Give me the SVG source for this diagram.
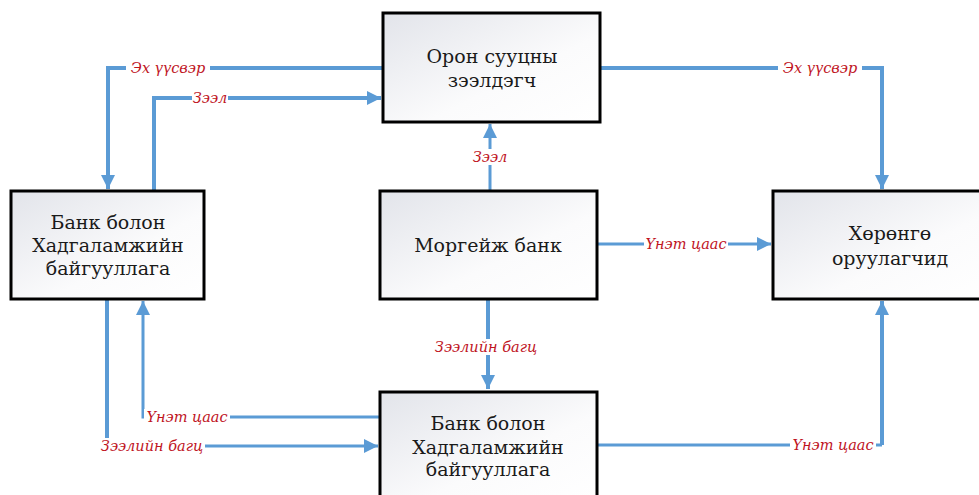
<svg xmlns="http://www.w3.org/2000/svg" width="979" height="495" viewBox="0 0 979 495">
<defs>
<linearGradient id="g" x1="0" y1="0" x2="1" y2="1">
<stop offset="0" stop-color="#e2e4ea"/>
<stop offset="0.6" stop-color="#fbfbfc"/>
<stop offset="1" stop-color="#ffffff"/>
</linearGradient>
<marker id="ah" markerUnits="userSpaceOnUse" markerWidth="16" markerHeight="14" refX="14" refY="7" orient="auto">
<path d="M0,0 L14,7 L0,14 Z" fill="#5b9bd5"/>
</marker>
<style>
.box{fill:url(#g);stroke:#000;stroke-width:3}
.t{font-family:'DejaVu Serif','Liberation Serif',serif;font-size:19px;fill:#1a1a1a;text-anchor:middle}
.c{fill:none;stroke:#5b9bd5;stroke-width:3}
.k{stroke-width:4}
.l{font-family:'DejaVu Serif','Liberation Serif',serif;font-style:italic;font-size:14.5px;fill:#c0141e;text-anchor:middle}
.bg{fill:#fff}
</style>
</defs>
<rect width="979" height="495" fill="#fff"/>
<g id="connectors">
<path class="c k" d="M383,68 H108 V189" marker-end="url(#ah)"/>
<path class="c k" d="M154,191 V98 H381" marker-end="url(#ah)"/>
<path class="c" d="M490,191 V124" marker-end="url(#ah)"/>
<path class="c k" d="M600,68 H882 V189" marker-end="url(#ah)"/>
<path class="c" d="M597,244 H771" marker-end="url(#ah)"/>
<path class="c k" d="M488,299 V389" marker-end="url(#ah)"/>
<path class="c k" d="M107,299 V446"/>
<path class="c" d="M107,446 H378" marker-end="url(#ah)"/>
<path class="c" d="M380,417 H143 V301" marker-end="url(#ah)"/>
<path class="c" d="M597,445 H882"/>
<path class="c k" d="M882,445 V301" marker-end="url(#ah)"/>
<rect class="bg" x="126" y="60" width="84" height="16"/>
<text class="l" x="168" y="73">Эх үүсвэр</text>
<rect class="bg" x="192" y="90" width="36" height="16"/>
<text class="l" x="210" y="103">Зээл</text>
<rect class="bg" x="472" y="149" width="36" height="16"/>
<text class="l" x="490" y="162">Зээл</text>
<rect class="bg" x="778" y="60" width="84" height="16"/>
<text class="l" x="820" y="73">Эх үүсвэр</text>
<rect class="bg" x="644" y="236" width="84" height="16"/>
<text class="l" x="686" y="249">Үнэт цааc</text>
<rect class="bg" x="434" y="339" width="104" height="16"/>
<text class="l" x="486" y="352">Зээлийн багц</text>
<rect class="bg" x="144" y="409" width="86" height="16"/>
<text class="l" x="187" y="422">Үнэт цааc</text>
<rect class="bg" x="99" y="438" width="106" height="16"/>
<text class="l" x="152" y="451">Зээлийн багц</text>
<rect class="bg" x="790" y="437" width="86" height="16"/>
<text class="l" x="833" y="450">Үнэт цааc</text>
</g>
<g id="n-top">
<rect class="box" x="383" y="13" width="217" height="109"/>
<text class="t" x="492" y="63">Орон сууцны</text>
<text class="t" x="492" y="87">зээлдэгч</text>
</g>
<g id="n-left">
<rect class="box" x="11" y="191" width="193" height="108"/>
<text class="t" x="108" y="229">Банк болон</text>
<text class="t" x="108" y="252">Хадгаламжийн</text>
<text class="t" x="108" y="275">байгууллага</text>
</g>
<g id="n-mid">
<rect class="box" x="380" y="191" width="217" height="108"/>
<text class="t" x="488" y="252">Моргейж банк</text>
</g>
<g id="n-right">
<rect class="box" x="773" y="191" width="217" height="108"/>
<text class="t" x="890" y="240">Хөрөнгө</text>
<text class="t" x="890" y="265">оруулагчид</text>
</g>
<g id="n-bottom">
<rect class="box" x="380" y="392" width="217" height="108"/>
<text class="t" x="488" y="430">Банк болон</text>
<text class="t" x="488" y="454">Хадгаламжийн</text>
<text class="t" x="488" y="476">байгууллага</text>
</g>
</svg>
